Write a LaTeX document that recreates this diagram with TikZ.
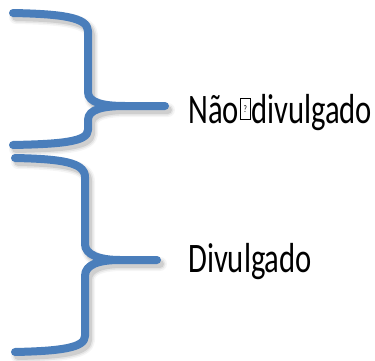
\documentclass[tikz,border=0pt]{standalone}
\usepackage{fontspec}
\setmainfont{Carlito}
\definecolor{braceblue}{RGB}{74,126,187}
\definecolor{shadowgray}{RGB}{90,90,90}
\newcommand\bracetop{(13,13) .. controls (60,14) and (88,17) .. (88,31) -- (88,92) .. controls (88,103) and (104,106) .. (125,106) -- (165,106)
  (125,106) .. controls (104,106) and (88,109) .. (88,120) -- (88,130) .. controls (88,142) and (60,144) .. (13,145)}
\newcommand\bracebottom{(15,158) .. controls (60,159) and (85,162) .. (85,177) -- (85,244) .. controls (85,255) and (100,260) .. (120,260) -- (157,260)
  (120,260) .. controls (100,260) and (85,264) .. (85,276) -- (85,336) .. controls (85,348) and (60,351) .. (15,352)}
\tikzset{
  bracestroke/.style={draw=braceblue, line width=8pt, line cap=round, line join=round},
  braceshade/.style={draw=shadowgray, line cap=round, line join=round},
  label/.style={anchor=base west, inner sep=0pt, font=\fontsize{42}{46}\selectfont},
}
\begin{document}
\begin{tikzpicture}[x=1pt, y=-1pt]
  \useasboundingbox (0,0) rectangle (375,361);
  % soft drop shadows under both braces
  \begin{scope}[shift={(3,4)}]
    \foreach \w/\o in {14/0.06, 11/0.10, 8/0.16} {
      \draw[braceshade, line width=\w pt, opacity=\o] \bracetop;
      \draw[braceshade, line width=\w pt, opacity=\o] \bracebottom;
    }
  \end{scope}
  % the two braces
  \draw[bracestroke] \bracetop;
  \draw[bracestroke] \bracebottom;
  % labels
  \node[label] (nd) at (188,123) {\scalebox{0.73}[1]{Não\kern2pt\raisebox{3pt}{\tikz[baseline=0pt]\node[draw, line width=0.8pt, minimum width=13pt, minimum height=21pt, inner sep=0pt, anchor=south, font=\fontsize{10}{10}\selectfont] {?};}\kern1pt divulgado}};
  \node[label] (dv) at (188,272.5) {\scalebox{0.73}[1]{Divulgado}};
\end{tikzpicture}
\end{document}
